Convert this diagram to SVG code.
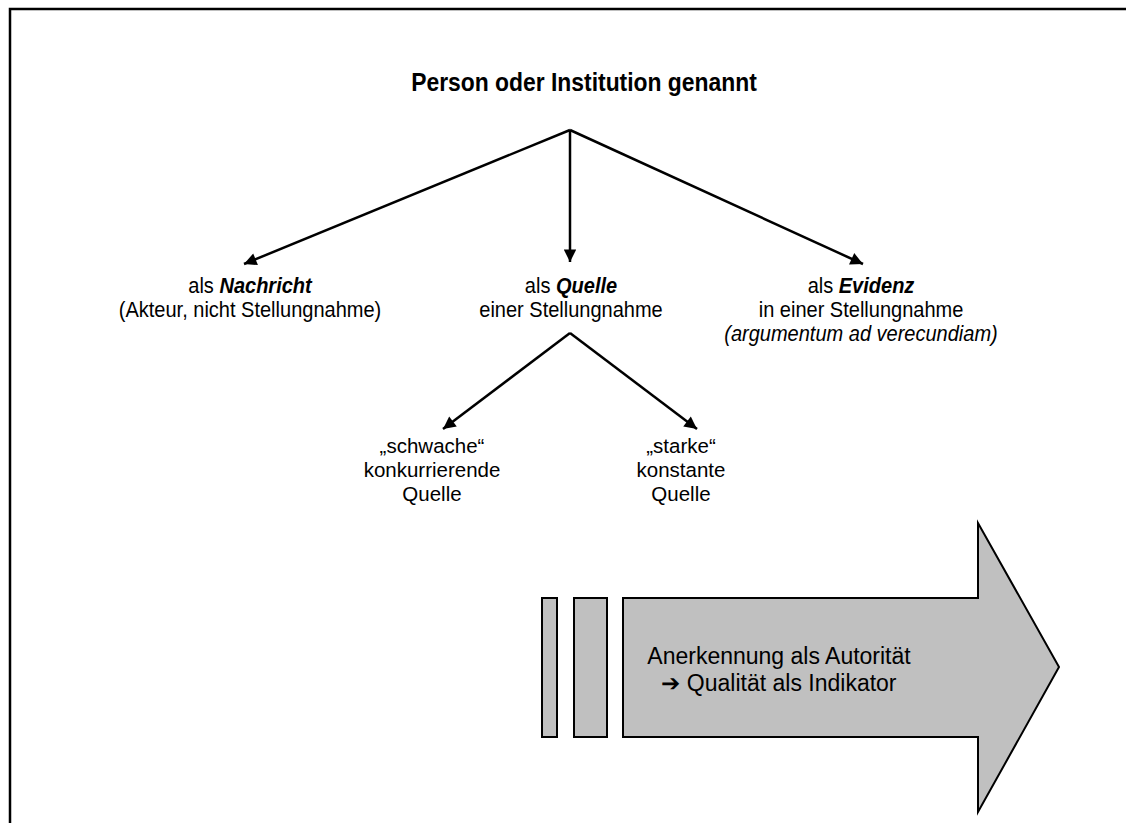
<svg xmlns="http://www.w3.org/2000/svg" width="1126" height="823" viewBox="0 0 1126 823">
<style>
  text { font-family: "Liberation Sans", Arial, sans-serif; fill: #000; text-anchor: middle; }
  .lbl { font-size: 22px; }
  .sub { font-size: 20.5px; }
  .box { font-size: 23px; }
  .title { font-size: 25px; font-weight: bold; }
  .em { font-weight: bold; font-style: italic; }
  .conn { stroke: #000; stroke-width: 2.5; fill: none; }
  .shape { fill: #c0c0c0; stroke: #000; stroke-width: 2; }
</style>
<defs>
  <marker id="ah" viewBox="0 0 10 10" refX="10" refY="5" markerWidth="6.4" markerHeight="5" markerUnits="strokeWidth" orient="auto">
    <path d="M0,0 L10,5 L0,10 z" fill="#000"/>
  </marker>
</defs>
<rect x="0" y="0" width="1126" height="823" fill="#fff"/>
<path d="M10,823 L10,9 L1126,9" stroke="#000" stroke-width="2.5" fill="none"/>

<g id="root" transform="translate(584 0) scale(0.915 1)">
  <text class="title" x="0" y="91">Person oder Institution genannt</text>
</g>

<g id="connectors">
  <line class="conn" x1="570" y1="130" x2="244" y2="264" marker-end="url(#ah)"/>
  <line class="conn" x1="570" y1="130" x2="570" y2="262" marker-end="url(#ah)"/>
  <line class="conn" x1="570" y1="130" x2="863" y2="264" marker-end="url(#ah)"/>
  <line class="conn" x1="570" y1="333" x2="443" y2="429" marker-end="url(#ah)"/>
  <line class="conn" x1="570" y1="333" x2="697" y2="429" marker-end="url(#ah)"/>
</g>

<g id="nachricht" transform="translate(250 0) scale(0.91 1)">
  <text class="lbl" x="0" y="293">als <tspan class="em">Nachricht</tspan></text>
  <text class="lbl" x="0" y="317">(Akteur, nicht Stellungnahme)</text>
</g>
<g id="quelle" transform="translate(571 0) scale(0.91 1)">
  <text class="lbl" x="0" y="293">als <tspan class="em">Quelle</tspan></text>
  <text class="lbl" x="0" y="317">einer Stellungnahme</text>
</g>
<g id="evidenz" transform="translate(861 0) scale(0.91 1)">
  <text class="lbl" x="0" y="293">als <tspan class="em">Evidenz</tspan></text>
  <text class="lbl" x="0" y="317">in einer Stellungnahme</text>
  <text class="lbl" x="0" y="341" font-style="italic">(argumentum ad verecundiam)</text>
</g>
<g id="schwach">
  <text class="sub" x="432" y="453">„schwache“</text>
  <text class="sub" x="432" y="477">konkurrierende</text>
  <text class="sub" x="432" y="501">Quelle</text>
</g>
<g id="stark">
  <text class="sub" x="681" y="453">„starke“</text>
  <text class="sub" x="681" y="477">konstante</text>
  <text class="sub" x="681" y="501">Quelle</text>
</g>

<g id="bigarrow">
  <rect class="shape" x="542" y="598" width="15" height="139"/>
  <rect class="shape" x="574" y="598" width="33" height="139"/>
  <path class="shape" d="M623,598 L978,598 L978,523 L1059,667 L978,812 L978,737 L623,737 Z"/>
  <text class="box" x="779" y="664">Anerkennung als Autorität</text>
  <text class="box" x="779" y="691">➔ Qualität als Indikator</text>
</g>
</svg>
